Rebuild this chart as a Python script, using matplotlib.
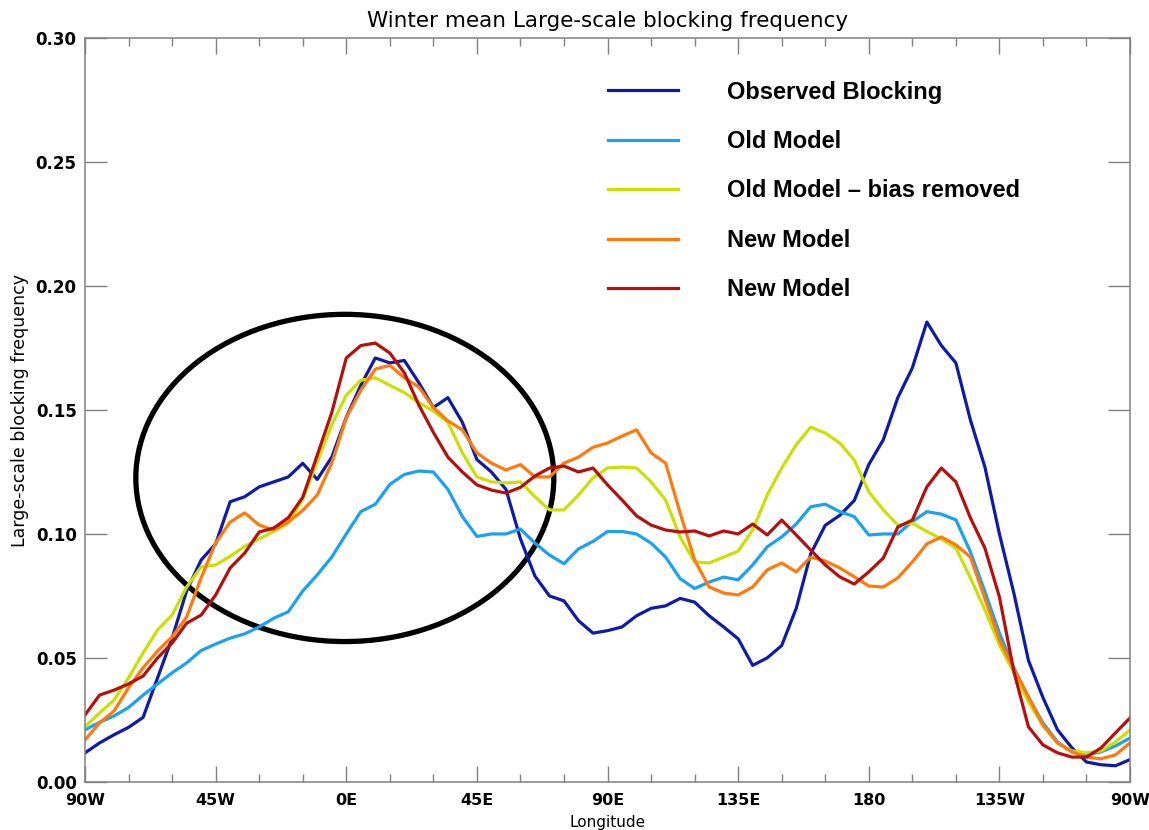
import matplotlib.pyplot as plt
from matplotlib.patches import Ellipse
from matplotlib.ticker import MultipleLocator

# longitude, -90 (90W) ... 270 (90W again), every 5 degrees
lon = list(range(-90, 271, 5))

observed = [
    0.0117, 0.0157, 0.019, 0.022, 0.026, 0.042, 0.058, 0.077, 0.0895, 0.096,
    0.113, 0.115, 0.119, 0.121, 0.123, 0.1285, 0.122, 0.131, 0.147, 0.160,
    0.171, 0.169, 0.170, 0.161, 0.151, 0.155, 0.145, 0.130, 0.125, 0.118,
    0.098, 0.083, 0.075, 0.073, 0.065, 0.060, 0.061, 0.0625, 0.067, 0.070,
    0.071, 0.074, 0.0725, 0.067, 0.0625, 0.0577, 0.047, 0.050, 0.055, 0.070,
    0.092, 0.1035, 0.1075, 0.1135, 0.128, 0.138, 0.155, 0.167, 0.1855, 0.176,
    0.169, 0.146, 0.127, 0.100, 0.076, 0.049, 0.034, 0.021, 0.0137, 0.008,
    0.0069, 0.0065, 0.009,
]
old_model = [
    0.021, 0.024, 0.0266, 0.030, 0.035, 0.0395, 0.044, 0.048, 0.053, 0.0556,
    0.058, 0.0597, 0.0625, 0.066, 0.0686, 0.077, 0.0835, 0.0907, 0.100, 0.109,
    0.112, 0.120, 0.124, 0.1254, 0.125, 0.118, 0.107, 0.099, 0.100, 0.100,
    0.102, 0.0963, 0.0915, 0.088, 0.094, 0.097, 0.101, 0.101, 0.100, 0.0963,
    0.0907, 0.082, 0.078, 0.0806, 0.0826, 0.0815, 0.0875, 0.0948, 0.0988, 0.104,
    0.111, 0.112, 0.109, 0.107, 0.0996, 0.100, 0.100, 0.105, 0.109, 0.108,
    0.1057, 0.0928, 0.0767, 0.060, 0.046, 0.034, 0.0238, 0.0161, 0.0121, 0.0109,
    0.0121, 0.0145, 0.0177,
]
old_model_bias_removed = [
    0.0222, 0.0278, 0.033, 0.042, 0.052, 0.0613, 0.0673, 0.0786, 0.0867, 0.0875,
    0.091, 0.095, 0.098, 0.101, 0.1044, 0.114, 0.129, 0.144, 0.156, 0.162,
    0.163, 0.160, 0.157, 0.153, 0.1496, 0.145, 0.1327, 0.123, 0.121, 0.1206,
    0.121, 0.115, 0.1097, 0.1097, 0.1157, 0.1226, 0.1266, 0.127, 0.1266, 0.121,
    0.1137, 0.0988, 0.0887, 0.0883, 0.0907, 0.0931, 0.1016, 0.1157, 0.1266, 0.136,
    0.1431, 0.1407, 0.1367, 0.1298, 0.117, 0.1097, 0.1036, 0.1044, 0.101, 0.098,
    0.0943, 0.0823, 0.0694, 0.0552, 0.044, 0.0323, 0.0226, 0.0157, 0.0125, 0.0117,
    0.0125, 0.0161, 0.021,
]
new_model = [
    0.0169, 0.0238, 0.0286, 0.038, 0.046, 0.0528, 0.0585, 0.0665, 0.0823, 0.0964,
    0.1048, 0.1085, 0.1036, 0.1016, 0.1048, 0.1095, 0.1157, 0.1286, 0.1468, 0.158,
    0.1665, 0.168, 0.163, 0.1593, 0.151, 0.1456, 0.142, 0.1327, 0.1286, 0.1258,
    0.128, 0.123, 0.123, 0.1286, 0.131, 0.135, 0.1367, 0.1395, 0.142, 0.1327,
    0.1286, 0.1085, 0.0895, 0.0786, 0.0762, 0.0754, 0.0786, 0.0855, 0.0883, 0.0847,
    0.0907, 0.0891, 0.0863, 0.0827, 0.079, 0.0786, 0.0823, 0.0887, 0.096, 0.0988,
    0.0956, 0.0907, 0.074, 0.0573, 0.0456, 0.0343, 0.023, 0.0157, 0.0121, 0.010,
    0.0093, 0.0109, 0.0157,
]
new_model_2 = [
    0.027, 0.035, 0.037, 0.0395, 0.0427, 0.050, 0.056, 0.064, 0.0673, 0.0754,
    0.0863, 0.0923, 0.1008, 0.1024, 0.1065, 0.1148, 0.1318, 0.149, 0.171, 0.176,
    0.177, 0.173, 0.165, 0.152, 0.141, 0.131, 0.125, 0.1198, 0.1177, 0.1165,
    0.1188, 0.1234, 0.1266, 0.1274, 0.125, 0.1266, 0.1198, 0.1137, 0.1073, 0.1036,
    0.1016, 0.1008, 0.1012, 0.0992, 0.1012, 0.100, 0.104, 0.0996, 0.1056, 0.0996,
    0.0935, 0.0875, 0.0827, 0.0798, 0.0847, 0.0903, 0.1028, 0.1056, 0.119, 0.1266,
    0.121, 0.1065, 0.0943, 0.0746, 0.0444, 0.0222, 0.0149, 0.0117, 0.010, 0.010,
    0.0137, 0.0198, 0.0258,
]

series = [
    ('Observed Blocking', observed, '#0d1ba8'),
    ('Old Model', old_model, '#1ba0f2'),
    ('Old Model \u2013 bias removed', old_model_bias_removed, '#c9e000'),
    ('New Model', new_model, '#ff7a0a'),
    ('New Model', new_model_2, '#b5100e'),
]

xticks = [-90, -45, 0, 45, 90, 135, 180, 225, 270]
xticklabels = ['90W', '45W', '0E', '45E', '90E', '135E', '180', '135W', '90W']

fig = plt.figure(figsize=(11.49, 8.30), dpi=100)
ax = fig.add_axes([0.074, 0.058, 0.9095, 0.896])

for label, values, color in series:
    ax.plot(lon, values, color=color, lw=2.3, label=label)

# the circled region
ax.add_patch(Ellipse((-0.5, 0.1226), 144, 0.132, fill=False,
                     edgecolor='black', lw=3.8))

ax.set_xlim(-90, 270)
ax.set_ylim(0, 0.30)
ax.set_xticks(xticks)
ax.set_xticklabels(xticklabels)
ax.xaxis.set_minor_locator(MultipleLocator(15))
ax.set_yticks([0, 0.05, 0.10, 0.15, 0.20, 0.25, 0.30])
ax.set_yticklabels(['0.00', '0.05', '0.10', '0.15', '0.20', '0.25', '0.30'])

ax.tick_params(axis='x', which='major', direction='in', length=11.5, width=1,
               color='#808080', top=True, labelsize=11.5, pad=8)
ax.tick_params(axis='x', which='minor', direction='in', length=5.8, width=1,
               color='#808080', top=True)
ax.tick_params(axis='y', which='major', direction='in', length=16, width=1,
               color='#808080', right=True, labelsize=12, pad=6)
for lab in ax.get_xticklabels() + ax.get_yticklabels():
    lab.set_fontweight('bold')
for sp in ax.spines.values():
    sp.set_color('#808080')
    sp.set_linewidth(1.1)

ax.set_title('Winter mean Large-scale blocking frequency', fontsize=15.5, pad=8)
ax.set_ylabel('Large-scale blocking frequency', fontsize=12.5, labelpad=5)
ax.set_xlabel('Longitude', fontsize=11, labelpad=5)

leg = ax.legend(loc='upper left', bbox_to_anchor=(0.5005, 0.943), frameon=False,
                handlelength=2.95, handletextpad=2.1, labelspacing=1.12,
                borderpad=0, borderaxespad=0,
                prop={'family': 'Liberation Sans', 'weight': 'bold', 'size': 17})

fig.savefig('out.png', dpi=100)
